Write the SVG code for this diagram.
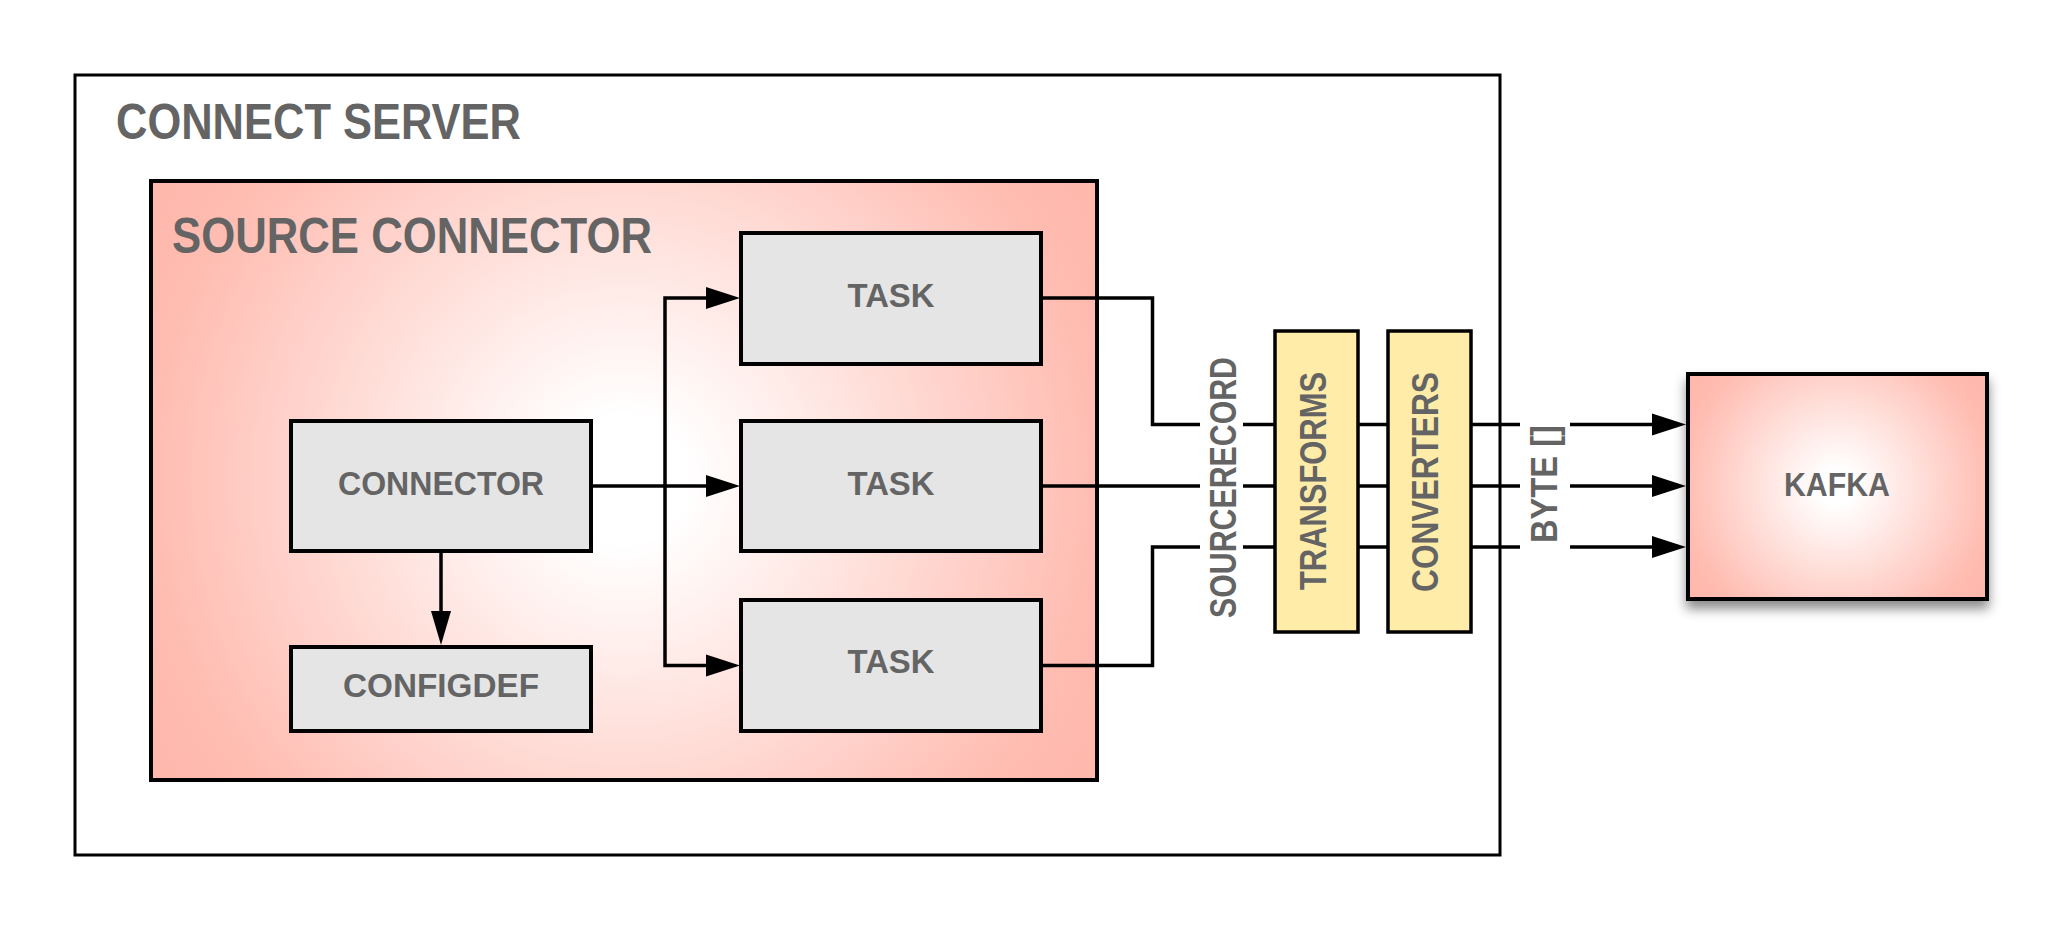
<svg xmlns="http://www.w3.org/2000/svg" width="2063" height="932" viewBox="0 0 2063 932">
  <defs>
    <radialGradient id="gSrc" gradientUnits="userSpaceOnUse" cx="623" cy="480" r="540">
      <stop offset="0" stop-color="#ffffff"/>
      <stop offset="0.12" stop-color="#ffffff"/>
      <stop offset="0.88" stop-color="#ffbcb1"/>
      <stop offset="1" stop-color="#ffb8ac"/>
    </radialGradient>
    <radialGradient id="gKafka" gradientUnits="userSpaceOnUse" cx="1837" cy="487" r="175">
      <stop offset="0" stop-color="#ffffff"/>
      <stop offset="0.1" stop-color="#ffffff"/>
      <stop offset="0.88" stop-color="#ffbcb1"/>
      <stop offset="1" stop-color="#ffb8ac"/>
    </radialGradient>
    <filter id="shadow" x="-20%" y="-20%" width="140%" height="150%">
      <feDropShadow dx="0" dy="8" stdDeviation="6" flood-color="#000" flood-opacity="0.45"/>
    </filter>
  </defs>
  <style>
    .lbl { font-family: "Liberation Sans", Arial, sans-serif; fill: #646464; font-weight: bold; }
    .big { font-size: 50px; }
    .mid { font-size: 34px; text-anchor: middle; }
    .vert { font-size: 36px; text-anchor: middle; }
    .box { fill: #e5e5e5; stroke: #000; stroke-width: 4; }
    .ybox { fill: #ffeca8; stroke: #000; stroke-width: 3.5; }
    .line { fill: none; stroke: #000; stroke-width: 3.5; }
    .head { fill: #000; }
  </style>

  <rect width="2063" height="932" fill="#ffffff"/>

  <g id="connect-server">
    <rect x="75" y="75" width="1425" height="780" fill="#ffffff" stroke="#000" stroke-width="3"/>
    <text class="lbl big" x="116" y="139" textLength="405" lengthAdjust="spacingAndGlyphs">CONNECT SERVER</text>
  </g>

  <g id="source-connector">
    <rect x="151" y="181" width="946" height="599" fill="url(#gSrc)" stroke="#000" stroke-width="4"/>
    <text class="lbl big" x="172" y="253" textLength="480" lengthAdjust="spacingAndGlyphs">SOURCE CONNECTOR</text>
  </g>

  <g id="connector">
    <rect class="box" x="291" y="421" width="300" height="130"/>
    <text class="lbl mid" x="441" y="495" textLength="206" lengthAdjust="spacingAndGlyphs">CONNECTOR</text>
  </g>

  <g id="configdef">
    <rect class="box" x="291" y="647" width="300" height="84"/>
    <text class="lbl mid" x="441" y="697" textLength="196" lengthAdjust="spacingAndGlyphs">CONFIGDEF</text>
  </g>

  <g id="task1">
    <rect class="box" x="741" y="233" width="300" height="131"/>
    <text class="lbl mid" x="891" y="307" textLength="87" lengthAdjust="spacingAndGlyphs">TASK</text>
  </g>
  <g id="task2">
    <rect class="box" x="741" y="421" width="300" height="130"/>
    <text class="lbl mid" x="891" y="495" textLength="87" lengthAdjust="spacingAndGlyphs">TASK</text>
  </g>
  <g id="task3">
    <rect class="box" x="741" y="600" width="300" height="131"/>
    <text class="lbl mid" x="891" y="673" textLength="87" lengthAdjust="spacingAndGlyphs">TASK</text>
  </g>

  <g id="transforms">
    <rect class="ybox" x="1275" y="331" width="83" height="301"/>
    <text class="lbl vert" transform="translate(1326,481) rotate(-90)" textLength="218" lengthAdjust="spacingAndGlyphs">TRANSFORMS</text>
  </g>

  <g id="converters">
    <rect class="ybox" x="1388" y="331" width="83" height="301"/>
    <text class="lbl vert" transform="translate(1438,482) rotate(-90)" textLength="220" lengthAdjust="spacingAndGlyphs">CONVERTERS</text>
  </g>

  <g id="kafka">
    <rect x="1688" y="374" width="299" height="225" fill="url(#gKafka)" stroke="#000" stroke-width="4" filter="url(#shadow)"/>
    <text class="lbl mid" x="1837" y="496" textLength="106" lengthAdjust="spacingAndGlyphs">KAFKA</text>
  </g>

  <g id="connectors">
    <!-- connector to configdef -->
    <line class="line" x1="441" y1="551" x2="441" y2="612"/>
    <polygon class="head" points="431,611 451,611 441,645"/>
    <!-- connector to tasks -->
    <line class="line" x1="591" y1="486" x2="708" y2="486"/>
    <polygon class="head" points="706,475 706,497 740,486"/>
    <polyline class="line" points="708,298 665,298 665,665.5 708,665.5"/>
    <polygon class="head" points="706,287 706,309 740,298"/>
    <polygon class="head" points="706,654.5 706,676.5 740,665.5"/>
    <!-- tasks to transforms -->
    <polyline class="line" points="1041,298 1152.5,298 1152.5,424.5 1200,424.5"/>
    <line class="line" x1="1041" y1="486" x2="1200" y2="486"/>
    <polyline class="line" points="1041,665.5 1152.5,665.5 1152.5,547 1200,547"/>
    <line class="line" x1="1243" y1="424.5" x2="1275" y2="424.5"/>
    <line class="line" x1="1243" y1="486" x2="1275" y2="486"/>
    <line class="line" x1="1243" y1="547" x2="1275" y2="547"/>
    <!-- transforms to converters -->
    <line class="line" x1="1358" y1="424.5" x2="1388" y2="424.5"/>
    <line class="line" x1="1358" y1="486" x2="1388" y2="486"/>
    <line class="line" x1="1358" y1="547" x2="1388" y2="547"/>
    <!-- converters to kafka -->
    <line class="line" x1="1471" y1="424.5" x2="1520" y2="424.5"/>
    <line class="line" x1="1471" y1="486" x2="1520" y2="486"/>
    <line class="line" x1="1471" y1="547" x2="1520" y2="547"/>
    <line class="line" x1="1570" y1="424.5" x2="1654" y2="424.5"/>
    <line class="line" x1="1570" y1="486" x2="1654" y2="486"/>
    <line class="line" x1="1570" y1="547" x2="1654" y2="547"/>
    <polygon class="head" points="1652,413.5 1652,435.5 1686,424.5"/>
    <polygon class="head" points="1652,475 1652,497 1686,486"/>
    <polygon class="head" points="1652,536 1652,558 1686,547"/>
    <!-- connector labels -->
    <text class="lbl vert" transform="translate(1236,487.5) rotate(-90)" textLength="261" lengthAdjust="spacingAndGlyphs">SOURCERECORD</text>
    <text class="lbl vert" transform="translate(1557,484) rotate(-90)" textLength="118" lengthAdjust="spacingAndGlyphs">BYTE []</text>
  </g>
</svg>
